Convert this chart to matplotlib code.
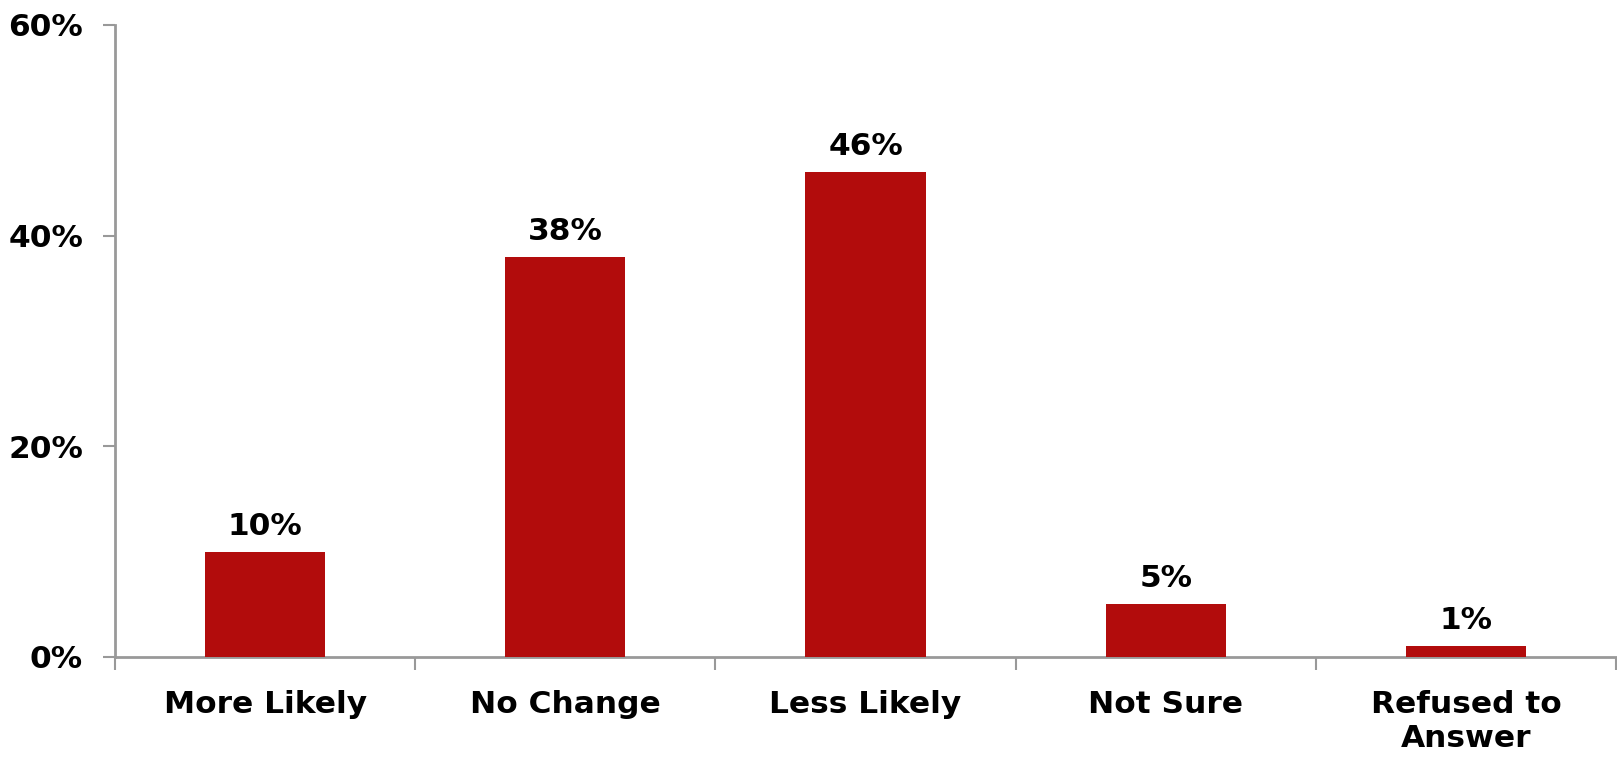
import numpy as np
import matplotlib.pyplot as plt

categories = ['More Likely', 'No Change', 'Less Likely', 'Not Sure', 'Refused to\nAnswer']
values = [10, 38, 46, 5, 1]
y_ticks = [0, 20, 40, 60]

bar_color = '#B20C0C'
axis_color = '#999999'

plt.rcParams['font.family'] = ['DejaVu Sans']
plt.rcParams['font.weight'] = 'bold'

fig = plt.figure(figsize=(16.17, 7.62), dpi=100)
ax = fig.add_axes([115 / 1617, 1 - 657 / 762, 1 - 116 / 1617, 632 / 762])

x = np.arange(len(categories))
bars = ax.bar(x, values, width=0.4, color=bar_color, zorder=3)

for rect, v in zip(bars, values):
    ax.annotate(f'{v}%', (rect.get_x() + rect.get_width() / 2, rect.get_height()),
                xytext=(0, 8), textcoords='offset points',
                ha='center', va='bottom', fontsize=22.5, fontweight='bold')

ax.set_xlim(-0.5, len(categories) - 0.5)
ax.set_ylim(0, 60)
ax.set_yticks(y_ticks)
ax.set_yticklabels([f'{t}%' for t in y_ticks], fontsize=22.5, fontweight='bold')

# category ticks sit on the boundaries between groups
ax.set_xticks(np.arange(len(categories) + 1) - 0.5)
ax.set_xticklabels([])
ax.set_xticks(x, minor=True)
ax.set_xticklabels(categories, minor=True, fontsize=22.5, fontweight='bold', linespacing=1.2)
ax.tick_params(axis='x', which='minor', length=0, pad=24)
ax.tick_params(axis='x', which='major', length=9, width=1.5, color=axis_color, direction='out')
ax.tick_params(axis='y', length=9, width=1.5, color=axis_color, direction='out', pad=14)

for side in ['top', 'right']:
    ax.spines[side].set_visible(False)
for side in ['left', 'bottom']:
    ax.spines[side].set_color(axis_color)
    ax.spines[side].set_linewidth(2)

fig.savefig('out.png', dpi=100)
